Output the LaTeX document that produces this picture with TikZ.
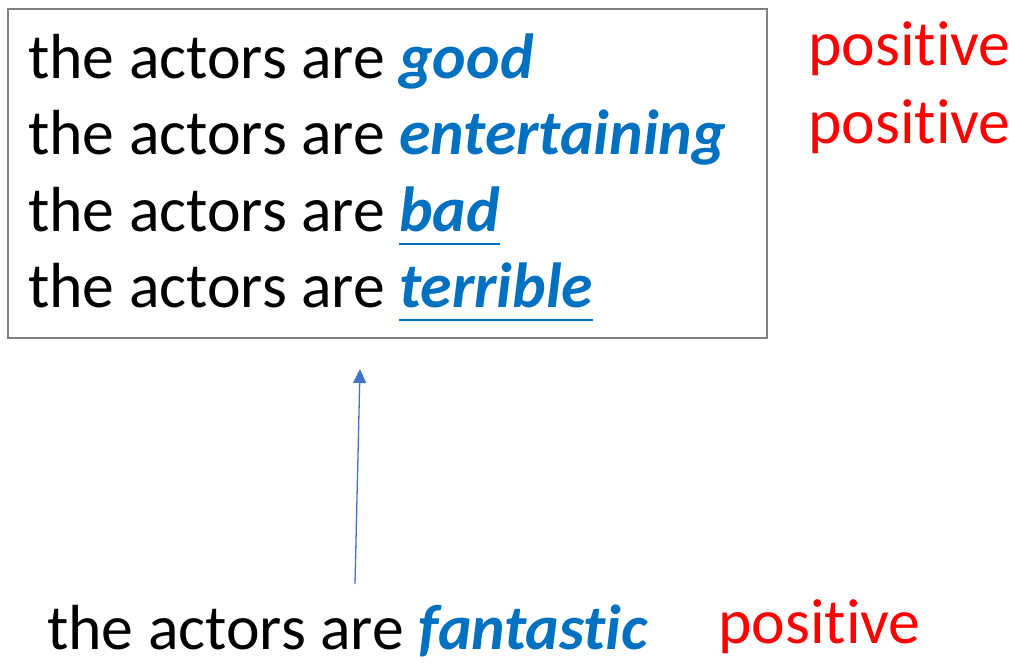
\documentclass[tikz,border=0pt]{standalone}
\usepackage{fontspec}
\setmainfont{Carlito}[Ligatures=NoCommon]
\usetikzlibrary{arrows.meta}
\definecolor{wordblue}{HTML}{0070C0}
\definecolor{arrowblue}{HTML}{4472C4}
\definecolor{boxgray}{HTML}{808080}
\newcommand{\kw}[1]{{\color{wordblue}\bfseries\itshape #1}}
\newcommand{\ulkw}[1]{\setbox0\hbox{\kw{#1}}\rlap{\color{wordblue}\rule[-14pt]{\wd0}{2.2pt}}\box0}
\tikzset{
  line/.style={anchor=base west, inner sep=0pt, font=\fontsize{63.7}{63.7}\selectfont},
  label/.style={anchor=base west, inner sep=0pt, text=red, font=\fontsize{63.7}{63.7}\selectfont},
  frame/.style={draw=boxgray, line width=1.5pt},
  link/.style={draw=arrowblue, line width=1.3pt, -{Triangle[length=14pt,width=13pt]}}
}
\begin{document}
\begin{tikzpicture}[x=1pt,y=-1pt]
\useasboundingbox (0,0) rectangle (1015,662);
\draw[frame] (8,9) rectangle (767,338);
\node[line] (l1) at (28,78) {the actors are \kw{good}};
\node[line] (l2) at (28,154) {the actors are \kw{entertaining}};
\node[line] (l3) at (28,231) {the actors are \ulkw{bad}};
\node[line] (l4) at (28,307) {the actors are \ulkw{terrible}};
\node[label] (p1) at (808,65) {positive};
\node[label] (p2) at (808,143) {positive};
\node[line] (q) at (47,649) {the actors are \kw{fantastic}};
\node[label] (p3) at (718,643) {positive};
\coordinate (start) at (355,584);
\coordinate (target) at (360,369);
\draw[link] (start) -- (target);
\end{tikzpicture}
\end{document}
